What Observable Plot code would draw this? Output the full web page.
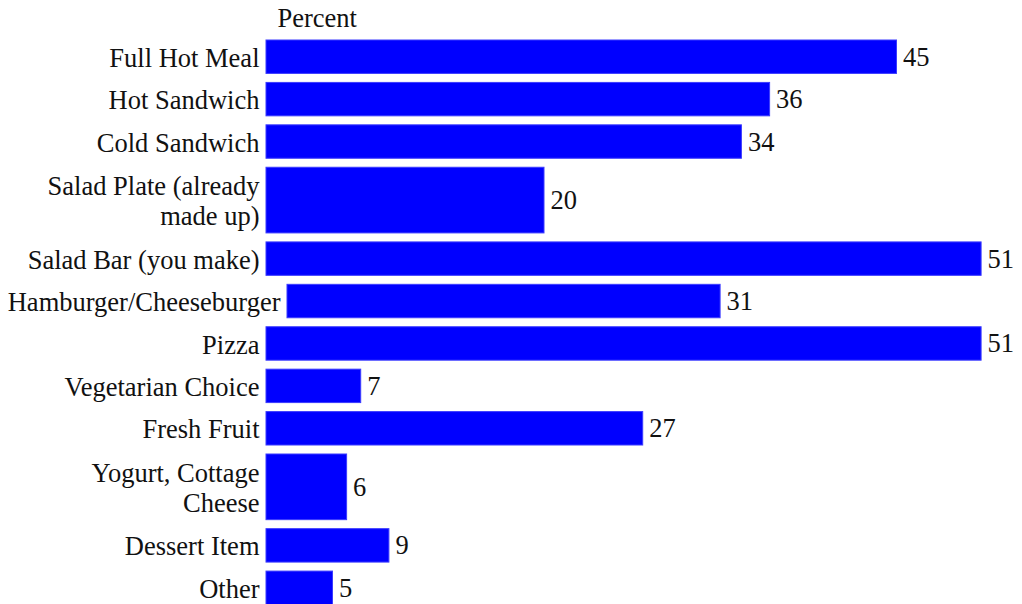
<!DOCTYPE html>
<html>
<head>
<meta charset="utf-8">
<script src="https://cdn.jsdelivr.net/npm/d3@7"></script>
<script src="https://cdn.jsdelivr.net/npm/@observablehq/plot@0.6"></script>
<style>
  html, body { margin: 0; padding: 0; background: #fff; }
</style>
</head>
<body>
<div id="chart"></div>
<script>
const categories = [
  "Full Hot Meal",
  "Hot Sandwich",
  "Cold Sandwich",
  "Salad Plate (already\nmade up)",
  "Salad Bar (you make)",
  "Hamburger/Cheeseburger",
  "Pizza",
  "Vegetarian Choice",
  "Fresh Fruit",
  "Yogurt, Cottage\nCheese",
  "Dessert Item",
  "Other"
];
const values = [45, 36, 34, 20, 51, 31, 51, 7, 27, 6, 9, 5];
const axisTitle = "Percent";

const fontSize = 26.5;
const font = "'Liberation Serif', 'Times New Roman', serif";

// measure label widths so an over-long label pushes its bar to the right
const ctx = document.createElement("canvas").getContext("2d");
ctx.font = `${fontSize}px ${font}`;
const labelGap = 7;      // gap between label end and bar start
const leftPad = 7;       // minimum space left of the widest label
const barStart = 266;    // where bars normally begin

// Row slots: two-line labels get a taller row
const twoLineWeight = 1.76;
let acc = 0;
const data = categories.map((c, i) => {
  const w = c.includes("\n") ? twoLineWeight : 1;
  const tw = Math.max(...c.split("\n").map(s => ctx.measureText(s).width));
  const shift = Math.max(0, Math.round(leftPad + tw + labelGap - barStart));
  const d = {label: c, value: values[i], y1: acc, y2: acc + w, mid: acc + w / 2, shift};
  acc += w;
  return d;
});
const total = acc;

const shifts = Array.from(new Set(data.map(d => d.shift)));

const marks = [];
for (const s of shifts) {
  const rows = data.filter(d => d.shift === s);
  marks.push(
    Plot.rect(rows, {
      x1: 0, x2: "value", y1: "y1", y2: "y2",
      insetTop: 4.5, insetBottom: 4.5, insetLeft: 4,
      dx: s,
      fill: "#0000ff", stroke: "#3b3bff", strokeWidth: 1
    }),
    Plot.text(rows, {
      x: 0, y: "mid", text: "label",
      textAnchor: "end", dx: 4 - labelGap + s, lineHeight: 1.13,
      fontSize, fill: "#111"
    }),
    Plot.text(rows, {
      x: "value", y: "mid", text: d => String(d.value),
      textAnchor: "start", dx: 6 + s, fontSize, fill: "#111"
    })
  );
}
marks.push(
  Plot.text([axisTitle], {
    x: 0, y: 0, text: d => d, textAnchor: "start",
    dx: 15, dy: -17, fontSize, fill: "#111"
  })
);

const chart = Plot.plot({
  width: 1022,
  height: 604,
  marginTop: 0, marginBottom: 0, marginLeft: 0, marginRight: 0,
  style: {fontFamily: font, fontSize: `${fontSize}px`, color: "#111", background: "#fff"},
  x: {domain: [0, 51], range: [262, 262 + 51 * 14.1], axis: null},
  y: {domain: [0, total], range: [35.5, 609], axis: null},
  marks
});
document.getElementById("chart").appendChild(chart);
</script>
</body>
</html>
